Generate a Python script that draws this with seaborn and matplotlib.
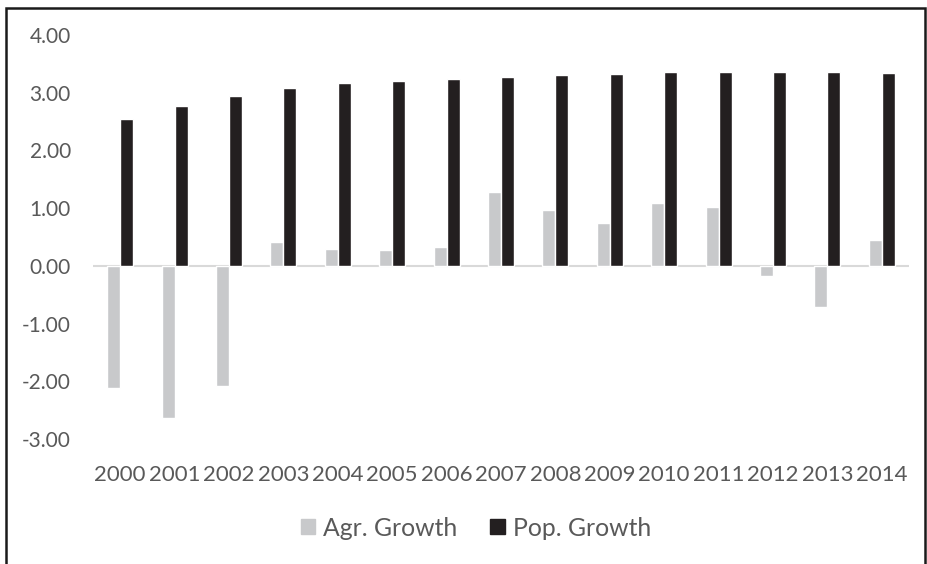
import matplotlib
matplotlib.use("Agg")
import matplotlib.pyplot as plt
import matplotlib.patches as mpatches
import numpy as np
import pandas as pd
import seaborn as sns

years = ["2000", "2001", "2002", "2003", "2004", "2005", "2006", "2007",
         "2008", "2009", "2010", "2011", "2012", "2013", "2014"]
agr_growth = [-2.12, -2.64, -2.08, 0.41, 0.29, 0.27, 0.32, 1.28,
              0.97, 0.75, 1.09, 1.02, -0.17, -0.72, 0.45]
pop_growth = [2.54, 2.77, 2.94, 3.08, 3.16, 3.20, 3.24, 3.28,
              3.31, 3.33, 3.36, 3.36, 3.36, 3.36, 3.34]
series_names = ["Agr. Growth", "Pop. Growth"]
y_ticks = [-3, -2, -1, 0, 1, 2, 3, 4]

colors = {"Agr. Growth": "#C8C9CB", "Pop. Growth": "#231F20"}
text_color = "#595959"

df = pd.DataFrame({
    "Year": years * 2,
    "Series": [series_names[0]] * len(years) + [series_names[1]] * len(years),
    "Value": agr_growth + pop_growth,
})

sns.set_theme(style="white")
plt.rcParams["font.family"] = ["Lato", "DejaVu Sans"]

fig = plt.figure(figsize=(9.28, 5.64), dpi=100)
ax = fig.add_axes([93 / 928, 1 - 439 / 564, (909 - 93) / 928, (439 - 35) / 564])

sns.barplot(data=df, x="Year", y="Value", hue="Series", order=years,
            hue_order=series_names, palette=colors, width=0.48,
            saturation=1, ax=ax, legend=False)

ax.set_xlim(-0.5, len(years) - 0.5)
ax.set_ylim(-3, 4)
ax.set_yticks(y_ticks)
ax.set_yticklabels([f"{v:.2f}" for v in y_ticks])
ax.axhline(0, color="#D9D9D9", lw=1.5, zorder=0.5)
for s in ax.spines.values():
    s.set_visible(False)
ax.set_xlabel("")
ax.set_ylabel("")
ax.tick_params(axis="x", length=0, pad=18.5, labelsize=16, colors=text_color)
ax.tick_params(axis="y", length=0, pad=16, labelsize=15, colors=text_color)

# legend along the bottom
handles = [mpatches.Patch(color=colors[n], label=n) for n in series_names]
fig.legend(handles=handles, loc="center", bbox_to_anchor=(476 / 928, 1 - 528 / 564),
           ncol=2, frameon=False, fontsize=17.8, handlelength=0.57, handleheight=0.57,
           handletextpad=0.33, columnspacing=1.33, labelcolor=text_color,
           borderpad=0, borderaxespad=0)

# outer frame
fig.patches.append(mpatches.Rectangle((6 / 928, -0.02), (925 - 6) / 928, 1.02 - 8 / 564,
                                      transform=fig.transFigure, fill=False,
                                      edgecolor="#1a1a1a", lw=1.8))

fig.savefig("out.png", dpi=100)
